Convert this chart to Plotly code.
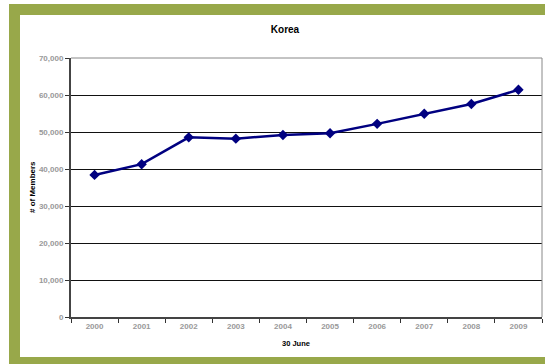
import plotly.graph_objects as go

years = ["2000", "2001", "2002", "2003", "2004", "2005", "2006", "2007", "2008", "2009"]
members = [38400, 41300, 48550, 48200, 49200, 49650, 52200, 54950, 57550, 61400]
y_ticks = [0, 10000, 20000, 30000, 40000, 50000, 60000, 70000]
y_tick_labels = ["0", "10,000", "20,000", "30,000", "40,000", "50,000", "60,000", "70,000"]

W, H = 545, 364
L, R, T, B = 71, 3, 58, 47
pw, ph = W - L - R, H - T - B

def px_x(x):
    return (x - L) / pw

def px_y(y):
    return (H - B - y) / ph

fig = go.Figure()
fig.add_trace(go.Scatter(
    x=years, y=members, mode="lines+markers",
    line=dict(color="#000080", width=2.5),
    marker=dict(symbol="diamond", size=8, color="#000080"),
    showlegend=False,
))

tickfont = dict(family="Liberation Sans, Arial", size=8, color="#999999", weight="bold")
titlefont = dict(family="Liberation Sans, Arial", size=8, color="black")

fig.update_layout(
    width=W, height=H,
    margin=dict(l=L, r=R, t=T, b=B),
    paper_bgcolor="white",
    plot_bgcolor="rgba(0,0,0,0)",
    title=dict(text="<b>Korea</b>", x=px_x(285), xref="paper", xanchor="center",
               y=1 - 29 / H, yanchor="middle",
               font=dict(family="Liberation Sans, Arial", size=10, color="black")),
    xaxis=dict(
        type="category", tickson="boundaries", ticks="outside", ticklen=4,
        tickcolor="#333", showline=True, linecolor="#444", linewidth=2,
        showgrid=False, tickfont=tickfont,
        range=[-0.5, 9.5],
    ),
    yaxis=dict(
        range=[0, 70000], tickvals=y_ticks, ticktext=y_tick_labels,
        ticks="outside", ticklen=4, tickcolor="#333",
        showline=True, linecolor="#444", linewidth=2,
        showgrid=True, gridcolor="#111", gridwidth=1, zeroline=False,
        tickfont=tickfont,
    ),
    annotations=[
        dict(text="<b>30 June</b>", xref="paper", yref="paper",
             x=px_x(296), y=px_y(343), xanchor="center", yanchor="middle",
             showarrow=False, font=dict(family="Liberation Sans, Arial", size=7.5, color="black")),
        dict(text="<b># of Members</b>", xref="paper", yref="paper",
             x=px_x(32), y=px_y(187), xanchor="center", yanchor="middle",
             textangle=-90, showarrow=False, font=titlefont),
    ],
    shapes=[
        dict(type="rect", xref="paper", yref="paper", layer="below",
             x0=px_x(9), x1=px_x(560), y0=px_y(380), y1=px_y(4),
             fillcolor="#98a84a", line=dict(width=0)),
        dict(type="rect", xref="paper", yref="paper", layer="below",
             x0=px_x(20), x1=px_x(560), y0=px_y(357), y1=px_y(15),
             fillcolor="white", line=dict(width=0)),
        dict(type="line", xref="paper", yref="paper", layer="above",
             x0=0, x1=1, y0=1, y1=1, line=dict(color="#888", width=1)),
        dict(type="line", xref="paper", yref="paper", layer="above",
             x0=1, x1=1, y0=0, y1=1, line=dict(color="#888", width=1)),
    ],
)

fig.write_html("out.html")
